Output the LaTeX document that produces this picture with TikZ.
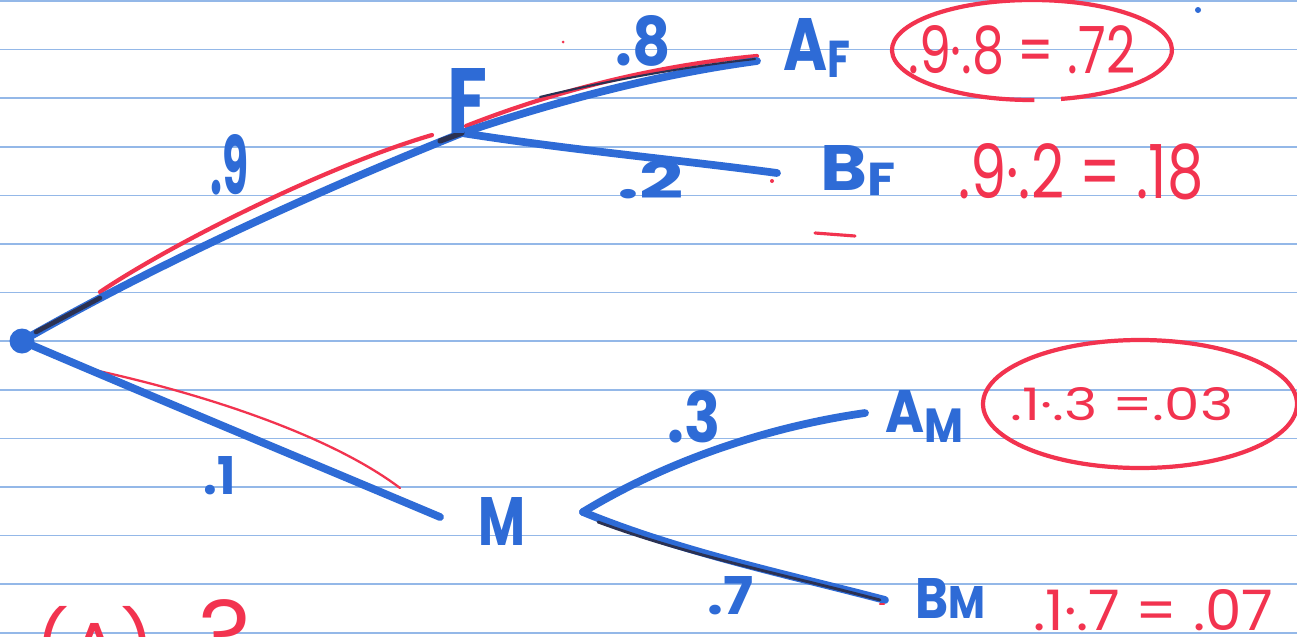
\documentclass[tikz,border=0pt]{standalone}
\usepackage{fontspec}
\setmainfont{Poppins}
\usepackage{graphicx}
\newlength{\pxu}\setlength{\pxu}{0.02cm}
\newcommand{\hwbox}[3]{\resizebox{#1\pxu}{#2\pxu}{#3}}
\definecolor{pen}{HTML}{2E6BD6}
\definecolor{redpen}{HTML}{F2334F}
\definecolor{rulecol}{HTML}{94B8E8}
\definecolor{ink}{HTML}{2B3152}
\tikzset{
  branch/.style={draw=pen, line width=4.4pt, line cap=round},
  redline/.style={draw=redpen, line width=2.4pt, line cap=round},
  thinred/.style={draw=redpen, line width=1.3pt, line cap=round},
  inkline/.style={draw=ink, line width=1.8pt, line cap=round},
  bluelabel/.style={text=pen, inner sep=0pt, anchor=base west, font=\bfseries},
  redlabel/.style={text=redpen, inner sep=0pt, anchor=base west},
  ruleline/.style={draw=rulecol, line width=0.9pt},
  redring/.style={draw=redpen, line width=2.4pt}
}
\begin{document}
\begin{tikzpicture}[x=0.02cm, y=-0.02cm]
\useasboundingbox (0,0) rectangle (1297,636);
\clip (0,0) rectangle (1297,636);
\fill[white] (0,0) rectangle (1297,636);
\foreach \k in {0,...,13} \draw[ruleline] (0,{1+48.6*\k}) -- (1297,{1+48.6*\k});

% junction coordinates
\coordinate (Fj) at (462,133);
\coordinate (AFe) at (757,61);
\coordinate (BFe) at (777,173);
\coordinate (Me) at (440,517);
\coordinate (Mj) at (583,512);
\coordinate (AMe) at (865,413);
\coordinate (BMe) at (885,600);

% red highlight strokes (under blue)
\coordinate (r1s) at (100,292); \coordinate (r1e) at (432,135);
\draw[redline] (r1s) .. controls (165,248) and (320,168) .. (r1e);
\coordinate (r2s) at (466,126); \coordinate (r2e) at (757,56);
\draw[redline] (r2s) .. controls (560,89) and (660,65) .. (r2e);
\coordinate (r3s) at (80,367); \coordinate (r3e) at (400,488);
\draw[thinred] (r3s) .. controls (200,392) and (330,435) .. (r3e);

% root
\node[circle, fill=pen, minimum size=0.5cm, inner sep=0pt] (root) at (22,341) {};

% blue branches
\draw[branch] (root.center) .. controls (160,262) and (320,190) .. (Fj);
\draw[branch] (Fj) .. controls (560,100) and (660,74) .. (AFe);
\draw[branch] (Fj) .. controls (570,150) and (680,160) .. (BFe);
\draw[branch] (root.center) .. controls (160,400) and (300,458) .. (Me);
\draw[branch] (Mj) .. controls (660,465) and (760,428) .. (AMe);
\draw[branch] (Mj) .. controls (680,552) and (790,575) .. (BMe);

% dark overlay strokes
\coordinate (k1s) at (36,332); \coordinate (k1e) at (100,298);
\draw[inkline, line width=2.6pt] (k1s) -- (k1e);
\coordinate (k2s) at (440,141); \coordinate (k2e) at (462,133);
\draw[inkline, line width=3pt] (k2s) -- (k2e);
\coordinate (k3s) at (540,97); \coordinate (k3e) at (755,59);
\draw[inkline, line width=1.2pt] (k3s) .. controls (610,80) and (690,66) .. (k3e);
\coordinate (k4s) at (598,522); \coordinate (k4e) at (880,600);
\draw[inkline, line width=1.6pt] (k4s) .. controls (690,556) and (790,576) .. (k4e);
\coordinate (k5) at (880,604);
\draw[thinred] (k5) -- ++(4,0);

% node letters
\node[bluelabel] (F) at (447,133) {\hwbox{40}{65}{F}};
\node[bluelabel] (AF) at (783,70) {\hwbox{67}{52}{A\raisebox{-1pt}{\scalebox{0.7}{F}}}};
\node[bluelabel] (BF) at (820,190) {\hwbox{75}{45}{B\raisebox{-0.8pt}{\scalebox{0.72}{F}}}};
\node[bluelabel] (M) at (478,545) {\hwbox{47}{48}{M}};
\node[bluelabel] (AM) at (885,432) {\hwbox{78}{42}{A\raisebox{-1.8pt}{\scalebox{0.8}{M}}}};
\node[bluelabel] (BM) at (915,618) {\hwbox{70}{40}{B\scalebox{0.8}{M}}};

% probabilities
\node[bluelabel] (p9) at (210,194) {\hwbox{38}{60}{.9}};
\node[bluelabel] (p8) at (615,65) {\hwbox{55}{50}{.8}};
\node[bluelabel] (p2) at (617,198) {\hwbox{66}{38}{.2}};
\node[bluelabel] (p1) at (203,494) {\hwbox{32}{38}{.1}};
\node[bluelabel] (p3) at (667,442) {\hwbox{53}{52}{.3}};
\node[bluelabel] (p7) at (707,614) {\hwbox{46}{38}{.7}};

% products
\node[redlabel] (cAF) at (908,73) {\hwbox{227}{48}{.9·.8 = .72}};
\node[redlabel] (cBF) at (958,198) {\hwbox{245}{55}{.9·.2 = .18}};
\node[redlabel] (cAM) at (1010,420) {\hwbox{223}{33}{.1·.3 =.03}};
\node[redlabel] (cBM) at (1033,630) {\hwbox{240}{41}{.1·.7 = .07}};
\node[redlabel] (q) at (35,672) {\hwbox{215}{72}{(A)\hspace{0.6em}\raisebox{0.1em}{\scalebox{1.3}{?}}}};

% rings
\draw[redring] (1034.4,100) arc[start angle=89, end angle=438, x radius=140, y radius=50];
\draw[redring] (1140,404) ellipse [x radius=157, y radius=64];

% stray marks
\coordinate (d1) at (815,233); \coordinate (d2) at (855,236);
\draw[redline, line width=1.8pt] (d1) -- (d2);
\fill[pen] (1198,10) circle (3);
\fill[redpen] (563,42) circle (1.5);
\fill[redpen] (772,181) circle (2);
\end{tikzpicture}
\end{document}
